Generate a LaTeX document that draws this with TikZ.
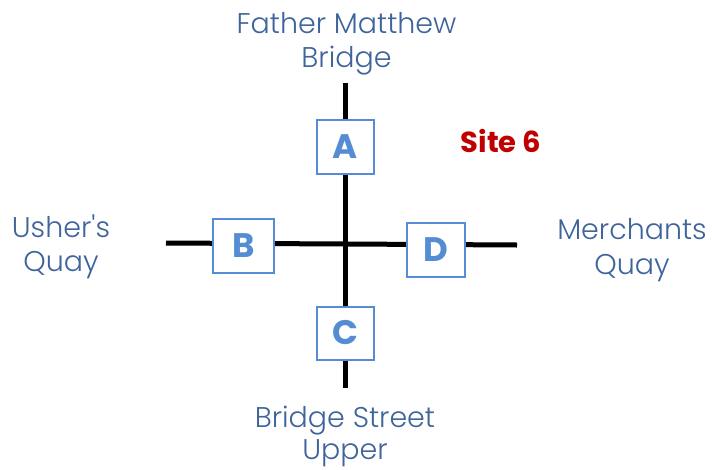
\documentclass[tikz,border=0pt]{standalone}
\usepackage{fontspec}
\setmainfont{Poppins}[Ligatures=TeXOff]
\newfontfamily\lightfont{Poppins Light}[Ligatures=TeXOff]
\definecolor{lblblue}{RGB}{62,100,155}
\definecolor{boxblue}{RGB}{84,141,212}
\definecolor{sitered}{RGB}{192,0,0}
\tikzset{
  lbl/.style={text=lblblue, font=\lightfont\fontsize{28.5}{34}\selectfont, inner sep=0pt, anchor=base},
  sitebox/.style={draw=boxblue, line width=2pt, fill=white, text=boxblue, font=\fontsize{34}{40}\bfseries\selectfont, inner sep=0pt},
  road/.style={line width=5pt, black},
}
\begin{document}
\begin{tikzpicture}[x=1pt,y=-1pt]
\useasboundingbox (0,0) rectangle (712,469);
% nodes
\coordinate (ctr) at (345,244);
\coordinate (nN) at (345,83);
\coordinate (nS) at (345,388);
\coordinate (nW) at (166,243);
\coordinate (nE) at (517,245);
\draw[road] (nN) -- (nS);
\draw[road] (nW) -- (ctr);
\draw[road] (ctr) -- (nE);
\node[sitebox, minimum width=57pt, minimum height=54pt] (A) at (345.5,147) {A};
\node[sitebox, minimum width=61pt, minimum height=54pt] (B) at (243.5,246) {B};
\node[sitebox, minimum width=58pt, minimum height=54pt] (D) at (436,250) {D};
\node[sitebox, minimum width=57pt, minimum height=53pt] (C) at (345.5,333) {C};
% labels
\node[lbl] (fm1) at (346.5,33) {Father Matthew};
\node[lbl] (fm2) at (346.5,67) {Bridge};
\node[lbl] (uq1) at (61,237) {Usher's};
\node[lbl] (uq2) at (61,271) {Quay};
\node[lbl] (mq1) at (632,239) {Merchants};
\node[lbl] (mq2) at (632,274) {Quay};
\node[lbl] (bs1) at (345,427) {Bridge Street};
\node[lbl] (bs2) at (345,459) {Upper};
\node[text=sitered, font=\fontsize{29}{34}\bfseries\selectfont, inner sep=0pt, anchor=base] (site) at (501,152) {Site 6};
\end{tikzpicture}
\end{document}
